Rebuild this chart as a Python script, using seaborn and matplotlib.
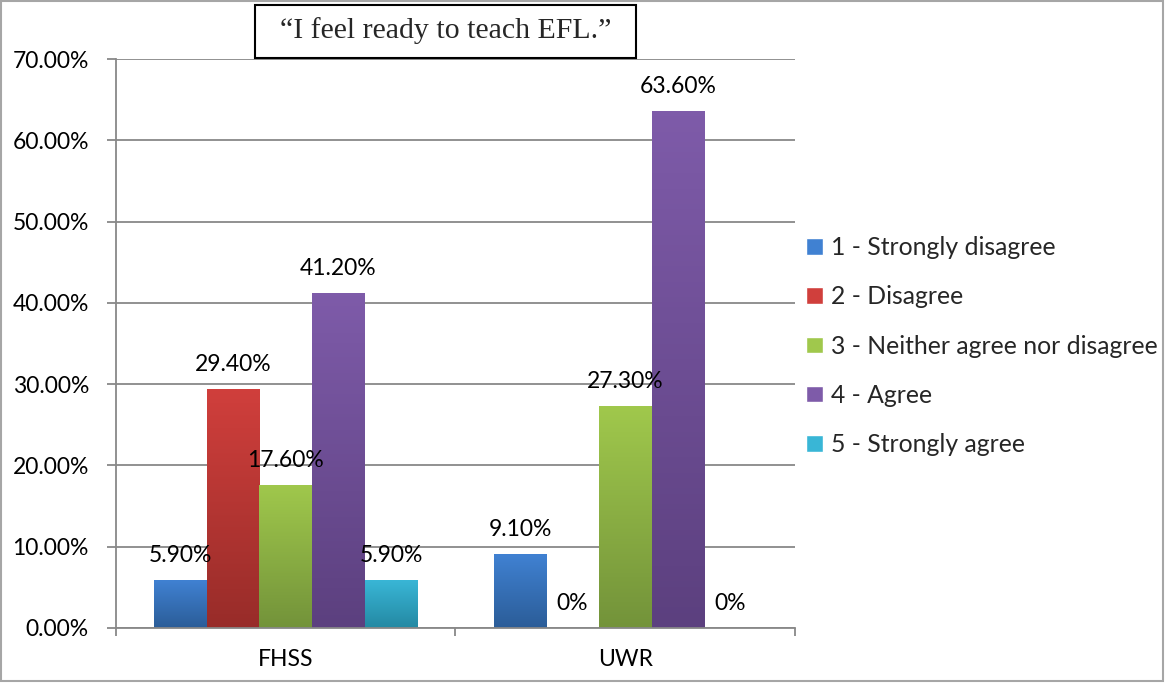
import numpy as np
import pandas as pd
import matplotlib
matplotlib.use("Agg")
import matplotlib.pyplot as plt
import seaborn as sns
from matplotlib.colors import LinearSegmentedColormap
from matplotlib.patches import Rectangle
from matplotlib.ticker import FuncFormatter, FixedLocator

# -------------------------------
# Data
# -------------------------------
groups = ["FHSS", "UWR"]
responses = ["1 - Strongly disagree", "2 - Disagree", "3 - Neither agree nor disagree",
             "4 - Agree", "5 - Strongly agree"]
fhss = [5.9, 29.4, 17.6, 41.2, 5.9]
uwr = [9.1, 0.0, 27.3, 63.6, 0.0]
title = "\u201cI feel ready to teach EFL.\u201d"

top_colors = ["#4081d2", "#d03f3c", "#a0c84c", "#7e5ba9", "#39b6d6"]
bottom_colors = ["#2b5d98", "#982c29", "#73933a", "#5c407f", "#2489a3"]

df = pd.DataFrame({
    "group": np.repeat(groups, len(responses)),
    "response": responses * len(groups),
    "value": fhss + uwr,
})

# -------------------------------
# Plot
# -------------------------------
sns.set_theme(style="white")
plt.rcParams["font.family"] = ["Lato", "DejaVu Sans"]

fig = plt.figure(figsize=(11.67, 6.84), dpi=100)
ax = fig.add_axes([0.0994, 0.0819, 0.5818, 0.8318])

sns.barplot(data=df, x="group", y="value", hue="response", hue_order=responses,
            palette=top_colors, width=0.775, gap=0, saturation=1, ax=ax,
            legend=False, linewidth=0, errorbar=None)

# gradient fill on each bar
for i, cont in enumerate(ax.containers):
    cmap = LinearSegmentedColormap.from_list(f"g{i}", [bottom_colors[i], top_colors[i]])
    for bar in cont:
        h = bar.get_height()
        if h <= 0:
            continue
        x0, w = bar.get_x(), bar.get_width()
        bar.set_alpha(0)
        im = ax.imshow(np.linspace(0, 1, 100).reshape(-1, 1), cmap=cmap, origin="lower",
                       extent=[x0, x0 + w, 0, h], aspect="auto", zorder=2)
        im.set_clip_path(Rectangle((x0, 0), w, h, transform=ax.transData))
    labels = [f"{v:.2f}%" if v > 0 else "0%" for v in cont.datavalues]
    ax.bar_label(cont, labels=labels, padding=10, fontsize=16.5, color="black")

ax.set_ylim(0, 70)
ax.set_xlim(-0.5, 1.5)
ax.set_aspect("auto")

ax.yaxis.set_major_locator(FixedLocator(np.arange(0, 71, 10)))
ax.yaxis.set_major_formatter(FuncFormatter(lambda v, p: f"{v:.2f}%"))
ax.grid(axis="y", color="#888888", linewidth=1.3)
ax.set_axisbelow(True)
ax.set_xlabel("")
ax.set_ylabel("")

for s in ["top", "right"]:
    ax.spines[s].set_visible(False)
for s in ["left", "bottom"]:
    ax.spines[s].set_color("#888888")
    ax.spines[s].set_linewidth(1.3)

ax.tick_params(axis="y", which="major", left=True, length=6.5, width=1.3,
               color="#888888", labelsize=16.5, pad=13, labelcolor="black")
ax.tick_params(axis="x", which="major", bottom=False, length=0, labelsize=16.5,
               pad=15, labelcolor="black")
ax.set_xticks([-0.5, 0.5, 1.5], minor=True)
ax.tick_params(axis="x", which="minor", bottom=True, length=6, color="#888888", width=1.3)

# legend
handles = [Rectangle((0, 0), 1, 1, facecolor=c) for c in top_colors]
fig.legend(handles, responses, loc="center left", bbox_to_anchor=(0.672, 0.494),
           frameon=False, fontsize=17.8, handlelength=0.66, handleheight=0.66,
           handletextpad=0.33, labelspacing=1.06)

# title box
fig.patches.append(Rectangle((255 / 1167, 1 - 58 / 684), 381 / 1167, 53 / 684,
                             transform=fig.transFigure, facecolor="white",
                             edgecolor="black", linewidth=1.5))
fig.text(445.5 / 1167, 1 - 31 / 684, title, ha="center", va="center", fontsize=21.5,
         family="Liberation Serif")

# outer frame
fig.patches.append(Rectangle((0.001, 0.004), 0.996, 0.994, transform=fig.transFigure,
                             fill=False, edgecolor="#a6a6a6", linewidth=1.5))

fig.savefig("out.png", dpi=100)
